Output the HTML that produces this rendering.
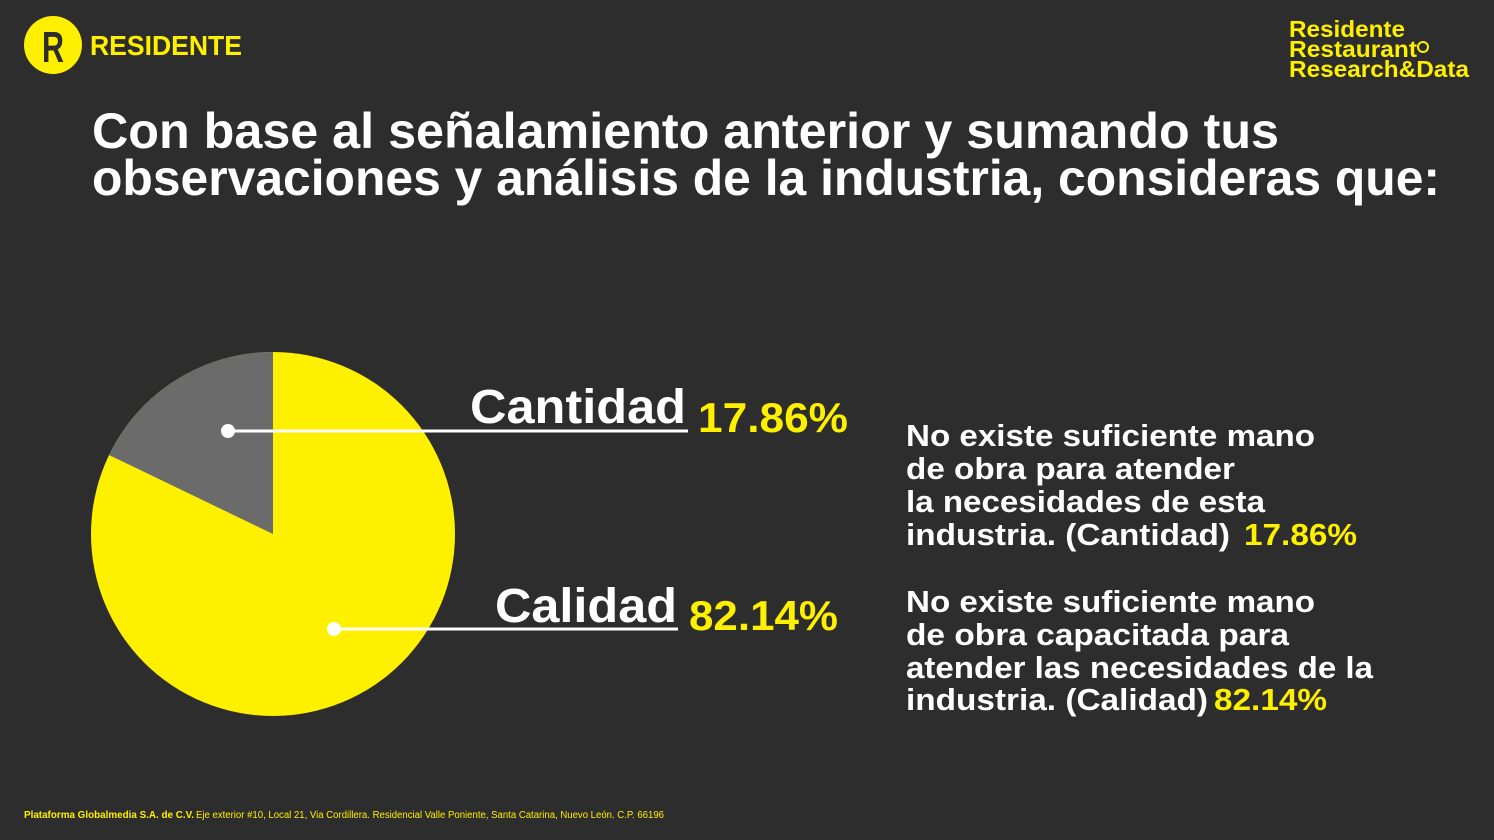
<!DOCTYPE html>
<html><head><meta charset="utf-8"><style>
html,body{margin:0;padding:0;background:#2d2d2d;}
svg{display:block;}
text{font-family:"Liberation Sans",Arial,sans-serif;font-weight:bold;}
</style></head><body>
<svg width="1494" height="840" viewBox="0 0 1494 840">
<rect width="1494" height="840" fill="#2d2d2d"/>
<circle cx="53" cy="45" r="29" fill="#fff000"/>
<text x="53" y="62" font-size="44" fill="#2d2d2d" text-anchor="middle" textLength="22" lengthAdjust="spacingAndGlyphs">R</text>
<text x="90" y="55" font-size="28" fill="#fff000" textLength="152" lengthAdjust="spacingAndGlyphs">RESIDENTE</text>
<g fill="#fff000" font-size="23">
<text x="1289" y="37" textLength="116" lengthAdjust="spacingAndGlyphs">Residente</text>
<text x="1289" y="57" textLength="128" lengthAdjust="spacingAndGlyphs">Restaurant</text>
<circle cx="1423" cy="47" r="5" fill="none" stroke="#fff000" stroke-width="2"/>
<text x="1289" y="77" textLength="180" lengthAdjust="spacingAndGlyphs">Research&amp;Data</text>
</g>
<g fill="#fff" font-size="50">
<text x="92" y="148" textLength="1187" lengthAdjust="spacingAndGlyphs">Con base al señalamiento anterior y sumando tus</text>
<text x="92" y="195" textLength="1348" lengthAdjust="spacingAndGlyphs">observaciones y análisis de la industria, consideras que:</text>
</g>
<circle cx="273" cy="534" r="182" fill="#fff000"/>
<path d="M273,534 L273,352 A182,182 0 0 0 109,455 Z" fill="#6b6b6b"/>
<line x1="228" y1="431" x2="688" y2="431" stroke="#fff" stroke-width="3"/>
<circle cx="228" cy="431" r="7" fill="#fff"/>
<line x1="334" y1="629" x2="678" y2="629" stroke="#fff" stroke-width="3"/>
<circle cx="334" cy="629" r="7" fill="#fff"/>
<text x="470" y="423" font-size="48" fill="#fff" textLength="216" lengthAdjust="spacingAndGlyphs">Cantidad</text>
<text x="698" y="432" font-size="42" fill="#fff000" textLength="150" lengthAdjust="spacingAndGlyphs">17.86%</text>
<text x="495" y="622" font-size="48" fill="#fff" textLength="182" lengthAdjust="spacingAndGlyphs">Calidad</text>
<text x="689" y="630" font-size="42" fill="#fff000" textLength="149" lengthAdjust="spacingAndGlyphs">82.14%</text>
<g fill="#fff" font-size="31">
<text x="906" y="446" textLength="409" lengthAdjust="spacingAndGlyphs">No existe suficiente mano</text>
<text x="906" y="479" textLength="329" lengthAdjust="spacingAndGlyphs">de obra para atender</text>
<text x="906" y="512" textLength="359" lengthAdjust="spacingAndGlyphs">la necesidades de esta</text>
<text x="906" y="545" textLength="324" lengthAdjust="spacingAndGlyphs">industria. (Cantidad)</text>
<text x="1244" y="545" fill="#fff000" textLength="113" lengthAdjust="spacingAndGlyphs">17.86%</text>
<text x="906" y="612" textLength="409" lengthAdjust="spacingAndGlyphs">No existe suficiente mano</text>
<text x="906" y="645" textLength="383" lengthAdjust="spacingAndGlyphs">de obra capacitada para</text>
<text x="906" y="678" textLength="467" lengthAdjust="spacingAndGlyphs">atender las necesidades de la</text>
<text x="906" y="710" textLength="302" lengthAdjust="spacingAndGlyphs">industria. (Calidad)</text>
<text x="1214" y="710" fill="#fff000" textLength="113" lengthAdjust="spacingAndGlyphs">82.14%</text>
</g>
<text x="24" y="818" font-size="10" fill="#fff000" textLength="170" lengthAdjust="spacingAndGlyphs">Plataforma Globalmedia S.A. de C.V.</text>
<text x="196" y="818" font-size="10" fill="#fff000" style="font-weight:normal" textLength="468" lengthAdjust="spacingAndGlyphs">Eje exterior #10, Local 21, Via Cordillera. Residencial Valle Poniente, Santa Catarina, Nuevo León. C.P. 66196</text>
</svg>
</body></html>
